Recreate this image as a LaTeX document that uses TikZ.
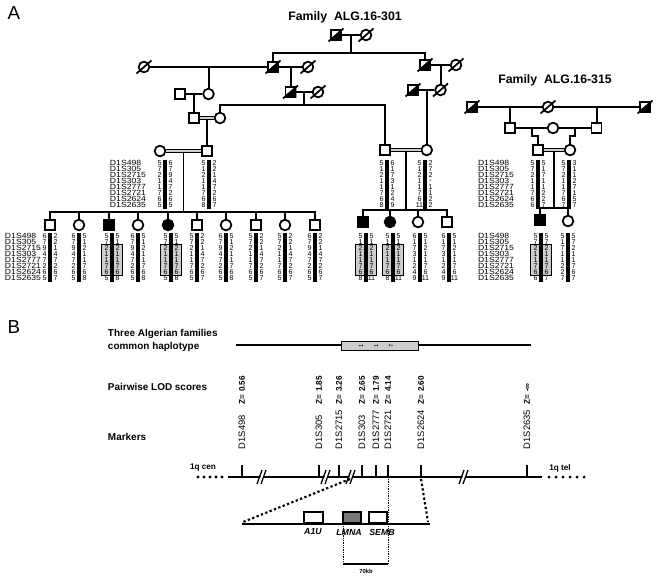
\documentclass[tikz,border=0pt]{standalone}
\usepackage{fontspec}
\setmainfont{Liberation Sans}
\usetikzlibrary{calc}
\definecolor{boxgray}{RGB}{205,205,205}
\definecolor{genegray}{RGB}{120,120,120}

\tikzset{
  male/.style={draw, rectangle, line width=1.5pt, minimum size=0.3cm, inner sep=0pt, fill=white},
  female/.style={draw, circle, line width=1.5pt, minimum size=0.32cm, inner sep=0pt, fill=white},
  maleaff/.style={male, fill=black},
  femaleaff/.style={female, fill=black},
  dbl/.style={line width=1.1pt, double=boxgray, double distance=1.5pt},
  famtitle/.style={font=\bfseries\fontsize{10.5}{12}\selectfont},
  panel/.style={font=\fontsize{16}{16}\selectfont},
  hapdigit/.style={font=\fontsize{6}{6}\selectfont, inner sep=0pt},
  markerlab/.style={font=\fontsize{6.4}{6.4}\selectfont, inner sep=0pt, anchor=west},
  sectitle/.style={font=\bfseries\fontsize{8.5}{11}\selectfont, anchor=west, align=left, inner sep=0pt},
  zlab/.style={font=\bfseries\fontsize{7}{7}\selectfont, rotate=90, anchor=west, inner sep=0pt},
  mlab/.style={font=\fontsize{8}{8}\selectfont, rotate=90, anchor=west, inner sep=0pt},
  genelab/.style={font=\bfseries\itshape\fontsize{7.5}{7.5}\selectfont, inner sep=0pt},
  endlab/.style={font=\bfseries\fontsize{7}{7}\selectfont, inner sep=0pt},
  zoomline/.style={line width=1.8pt, dash pattern=on 2pt off 2pt},
}

% slash of a deceased individual
\newcommand{\deceased}[1]{\draw[line width=1.5pt] ($(#1.center)+(-7.5,6.5)$) -- ($(#1.center)+(7.5,-6.5)$);}
\newcommand{\deadmale}[1]{\fill (#1.south west) -- (#1.south east) -- (#1.north east) -- cycle; \deceased{#1}}
% haplotype: name, bar x, top row y, left alleles, right alleles
\newcommand{\haplo}[5]{%
  \fill (#2-1.6,#3-3.5) rectangle (#2+1.6,#3+45.5);
  \foreach \al [count=\row] in {#4} \node[hapdigit] (#1l\row) at (#2-5.5,#3+6*\row-6) {\al};
  \foreach \al [count=\row] in {#5} \node[hapdigit] (#1r\row) at (#2+5.5,#3+6*\row-6) {\al};
}
\newcommand{\hapbox}[2]{%
  \filldraw[fill=boxgray, line width=0.6pt] (#1-10.5,#2+8.5) rectangle (#1-1.6,#2+39.5);
  \filldraw[fill=boxgray, line width=0.6pt] (#1+1.6,#2+8.5) rectangle (#1+10.5,#2+39.5);
}
\newcommand{\markerlist}[3]{%
  \foreach \mk [count=\row] in {D1S498,D1S305,D1S2715,D1S303,D1S2777,D1S2721,D1S2624,D1S2635}
    \node[markerlab] (#1\row) at (#2,#3+6*\row-6) {\scalebox{1.15}[1]{\mk}};
}

\begin{document}
\begin{tikzpicture}[x=0.03cm, y=-0.03cm, line width=1.7pt]
  \useasboundingbox (0,0) rectangle (656,576);
  \node[panel] (panelA) at (14,13) {A};
  \node[famtitle] (fam301) at (345,17) {Family\ \ ALG.16-301};
  \node[famtitle] (fam315) at (555,80) {Family\ \ ALG.16-315};

  % family ALG.16-301
  \node[male] (iA) at (336,35) {};
  \node[female] (iB) at (366,35) {};
  \node[female] (iiA) at (144,67) {};
  \node[male] (iiB) at (273,67) {};
  \node[female] (iiC) at (308,67) {};
  \node[male] (iiD) at (425,65) {};
  \node[female] (iiE) at (456,65) {};
  \node[male] (iiiA) at (180,94) {};
  \node[female] (iiiB) at (208.5,94) {};
  \node[male] (iiiC) at (290.5,92) {};
  \node[female] (iiiD) at (318,92) {};
  \node[male] (iiiE) at (413,90) {};
  \node[female] (iiiF) at (440.5,90) {};
  \node[male] (ivA) at (194,118) {};
  \node[female] (ivB) at (220,118) {};
  \node[male] (ivC) at (385,150) {};
  \node[female] (ivD) at (426.75,150) {};
  \node[female] (vA) at (160,151) {};
  \node[male] (vB) at (207,151) {};
  \foreach \cx/\kind [count=\i] in {50/male,79/female,109/maleaff,138/female,168/femaleaff,197/male,226/female,256/male,285/female,315/male}
    \node[\kind] (vi\i) at (\cx,225) {};
  \foreach \cx/\kind [count=\i] in {363/maleaff,390/femaleaff,418/female,447/male}
    \node[\kind] (vR\i) at (\cx,222) {};

  \draw (iA) -- (iB);
  \draw ($(iA)!.5!(iB)$) -- ++(0,18) coordinate (sibI);
  \draw (iiB) |- (sibI) -| (iiD);
  \draw (iiA) -- (iiB) -- (iiC);
  \draw (iiD) -- (iiE);
  \draw (iiiB) |- ($(iiA)!.5!(iiB)$);
  \draw (iiiC) |- ($(iiB)!.5!(iiC)$);
  \draw (iiiF) |- ($(iiD)!.5!(iiE)$);
  \draw (iiiA) -- (iiiB);
  \draw (iiiC) -- (iiiD);
  \draw (iiiE) -- (iiiF);
  \draw (ivA) |- ($(iiiA)!.5!(iiiB)$);
  \draw ($(iiiC)!.5!(iiiD)$) -- ++(0,13) coordinate (sibIII);
  \draw (ivB) |- (sibIII) -| (ivC);
  \draw (ivD) |- ($(iiiE)!.5!(iiiF)$);
  \draw (vB) |- ($(ivA)!.5!(ivB)$);
  \draw ($(vA)!.5!(vB)$) -- ++(0,61) coordinate (sibL);
  \draw (vi1) |- (sibL) -| (vi10);
  \foreach \i in {2,...,9} \draw (vi\i) -- (vi\i |- sibL);
  \draw ($(ivC)!.5!(ivD)$) -- ++(0,60) coordinate (sibR);
  \draw (vR1) |- (sibR) -| (vR4);
  \foreach \i in {2,3} \draw (vR\i) -- (vR\i |- sibR);
  \draw[dbl] (ivA) -- (ivB);
  \draw[dbl] (ivC) -- (ivD);
  \draw[dbl] (vA) -- (vB);

  \deadmale{iA} \deceased{iB} \deceased{iiA} \deadmale{iiB} \deceased{iiC}
  \deadmale{iiD} \deceased{iiE} \deadmale{iiiC} \deceased{iiiD} \deadmale{iiiE} \deceased{iiiF}

  % family ALG.16-315
  \node[male] (pA) at (472,107) {};
  \node[female] (pB) at (548,107) {};
  \node[male] (pC) at (645,107) {};
  \node[male] (pD) at (510,128) {};
  \node[female] (pE) at (553,128) {};
  \node[male] (pF) at (596.5,128) {};
  \node[male] (pG) at (538,150) {};
  \node[female] (pH) at (570,150) {};
  \node[maleaff] (pI) at (540,220) {};
  \node[female] (pJ) at (568,221) {};
  \draw (pA) -- (pB) -- (pC);
  \draw (pD) |- ($(pA)!.5!(pB)$);
  \draw (pF) |- ($(pB)!.5!(pC)$);
  \draw (pD) -- (pE) -- (pF);
  \draw (pG.north) -- ++(0,-8) -| ($(pD)!.5!(pE)$);
  \draw (pH.north) -- ++(0,-8) -| ($(pE)!.5!(pF)$);
  \draw ($(pG)!.5!(pH)$) -- ++(0,58) coordinate (sib315);
  \draw (pI) |- (sib315) -| (pJ);
  \draw[dbl] (pG) -- (pH);
  \deadmale{pA} \deceased{pB} \deadmale{pC}

  % haplotypes
  \markerlist{mkP}{109}{163}
  \markerlist{mkC}{4}{236}
  \markerlist{mkQ}{477}{163}
  \markerlist{mkD}{477}{236}
  \haplo{hvA}{165}{163}{5,7,2,1,1,7,6,5}{6,7,9,4,7,2,6,5}
  \haplo{hvB}{209}{163}{5,1,2,1,1,7,6,8}{2,2,1,4,7,2,6,7}
  \haplo{hivC}{387}{163}{5,1,2,1,1,7,6,8}{6,1,7,3,1,2,4,9}
  \haplo{hivD}{425}{163}{5,1,2,1,1,7,6,11}{2,7,2,-,1,1,2,2}
  \hapbox{112}{236} \hapbox{171}{236}
  \hapbox{366}{236} \hapbox{393}{236}
  \haplo{hvi1}{50}{236}{6,7,9,4,7,2,6,5}{2,2,1,4,7,2,6,7}
  \haplo{hvi2}{79}{236}{6,7,9,4,7,2,6,5}{5,1,2,1,1,7,6,8}
  \haplo{hvi3}{112}{236}{5,7,2,1,1,7,6,5}{5,1,2,1,1,7,6,8}
  \haplo{hvi4}{138}{236}{6,7,9,4,7,2,6,5}{5,1,2,1,1,7,6,8}
  \haplo{hvi5}{171}{236}{5,7,2,1,1,7,6,5}{5,1,2,1,1,7,6,8}
  \haplo{hvi6}{197}{236}{5,7,2,1,1,7,6,5}{2,2,1,4,7,2,6,7}
  \haplo{hvi7}{226}{236}{6,7,9,4,7,2,6,5}{5,1,2,1,1,7,6,8}
  \haplo{hvi8}{256}{236}{5,7,2,1,1,7,6,5}{2,2,1,4,7,2,6,7}
  \haplo{hvi9}{285}{236}{5,7,2,1,1,7,6,5}{2,2,1,4,7,2,6,7}
  \haplo{hvi10}{315}{236}{6,7,9,4,7,2,6,5}{2,2,1,4,7,2,6,7}
  \haplo{hvR1}{366}{236}{5,1,2,1,1,7,6,8}{5,1,2,1,1,7,6,11}
  \haplo{hvR2}{393}{236}{5,1,2,1,1,7,6,8}{5,1,2,1,1,7,6,11}
  \haplo{hvR3}{420}{236}{6,1,7,3,1,2,4,9}{5,1,2,1,1,7,6,11}
  \haplo{hvR4}{449}{236}{6,1,7,3,1,2,4,9}{5,1,2,1,1,7,6,11}
  \haplo{hpG}{538}{163}{5,7,2,1,1,7,6,6}{5,1,7,1,1,2,2,7}
  \haplo{hpH}{569}{163}{5,7,2,1,1,7,6,7}{3,1,1,2,7,1,5,7}
  \hapbox{541}{236}
  \haplo{hpI}{541}{236}{5,7,2,1,1,7,6,6}{5,7,2,1,1,7,6,7}
  \haplo{hpJ}{568}{236}{5,1,7,1,1,2,2,7}{5,7,2,1,1,7,6,7}

  % panel B
  \node[panel] (panelB) at (14,327) {B};
  \node[sectitle] (hapTitle) at (107,340) {Three Algerian families\\common haplotype};
  \node[sectitle] (lodTitle) at (107,387) {Pairwise LOD scores};
  \node[sectitle] (mkTitle) at (107,437) {Markers};
  \draw[line width=1.2pt] (236,345) -- (531,345);
  \filldraw[fill=boxgray, line width=0.8pt] (341,341) rectangle (418,350);
  \foreach \hx/\hv [count=\i] in {361/1,376/1,391/7}
    \node[hapdigit, rotate=90, font=\fontsize{5}{5}\selectfont] (ch\i) at (\hx,345.5) {\hv};

  \draw[line width=2.4pt] (228,477) -- (542,477);
  \foreach \mx/\mk/\zs [count=\i] in {242/D1S498/0.56, 319/D1S305/1.85, 339/D1S2715/3.26, 362/D1S303/2.65, 376/D1S2777/1.79, 388/D1S2721/4.14, 421/D1S2624/2.60, 527/D1S2635/-∞} {
    \node[zlab] (z\i) at (\mx,405) {Z= \zs};
    \node[mlab] (m\i) at (\mx,450) {\mk};
    \draw[line width=2.2pt] (\mx,465) -- (\mx,477);
  }
  \foreach \bx in {263,327,352,465} {
    \fill[white] (\bx-5,484) -- (\bx,470) -- (\bx+3,470) -- (\bx-2,484) -- cycle;
    \draw[line width=1.1pt] (\bx-6,484) -- (\bx-1,470);
    \draw[line width=1.1pt] (\bx-2,484) -- (\bx+3,470);
  }
  \foreach \dx in {198,204,...,222} \fill (\dx,477) circle (1.3pt);
  \foreach \dx in {549,556,...,584} \fill (\dx,477) circle (1.3pt);
  \node[endlab] (cen) at (203,468) {1q cen};
  \node[endlab] (tel) at (560,468) {1q tel};

  \draw[zoomline] (350,479) -- (243,522);
  \draw[zoomline] (421,479) -- (428,522);
  \draw[line width=2.4pt] (242,524) -- (430,524);
  \filldraw[fill=white, line width=0.9pt] (304,512) rectangle (323,523);
  \filldraw[fill=genegray, line width=0.9pt] (343,512) rectangle (361,523);
  \filldraw[fill=white, line width=0.9pt] (369,512) rectangle (387,523);
  \node[genelab] (gA1U) at (313,532) {A1U};
  \node[genelab] (gLMNA) at (349,532) {LMNA};
  \node[genelab] (gSEMB) at (382,532) {SEMB};
  \draw[line width=0.5pt, densely dotted] (343,524) -- (343,564);
  \draw[line width=0.5pt, densely dotted] (388,477) -- (388,564);
  \draw[line width=1pt] (343,564) -- (388,564);
  \node[font=\bfseries\fontsize{5}{5}\selectfont] (kb) at (366,571) {70kb};
\end{tikzpicture}
\end{document}
